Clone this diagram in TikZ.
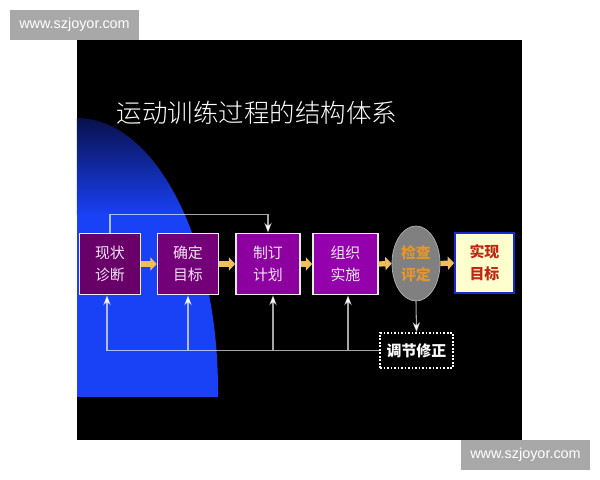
\documentclass[tikz,border=0pt]{standalone}
\usepackage{fontspec}
\setmainfont{Noto Sans CJK SC}
\newfontfamily\titlefont{Noto Sans CJK SC}[UprightFont=* Light]
\newfontfamily\wmfont{Liberation Sans}
\usepackage{xcolor}
\usepackage{tikz}
\usetikzlibrary{arrows.meta,positioning,shapes.geometric}

% 幻灯片配色
\definecolor{slideblue}{RGB}{25,65,245}
\definecolor{slidenavy}{RGB}{8,15,70}
\definecolor{stageA}{RGB}{105,0,105}
\definecolor{stageB}{RGB}{115,0,120}
\definecolor{stageC}{RGB}{140,0,160}
\definecolor{stageD}{RGB}{148,0,172}
\definecolor{flowyellow}{RGB}{240,190,90}
\definecolor{checkgray}{RGB}{128,128,128}
\definecolor{checkorange}{RGB}{228,150,45}
\definecolor{goalfill}{RGB}{255,255,205}
\definecolor{goalblue}{RGB}{20,45,200}
\definecolor{goaltext}{RGB}{190,40,20}
\definecolor{wmgray}{RGB}{168,168,168}

\begin{document}
\begin{tikzpicture}[
        x=0.02cm, y=-0.02cm,
        >=Stealth,
        % 流程方框样式
        stage/.style={draw=white!85!gray, line width=0.9pt, minimum width=1.22cm, minimum height=1.22cm,
            align=center, inner sep=1pt, text={rgb,255:red,242;green,228;blue,242},
            font=\fontsize{8.5}{12.5}\selectfont},
        checkpt/.style={draw=gray!60!white, fill=checkgray, ellipse, minimum width=0.96cm, minimum height=1.5cm,
            inner sep=0pt, align=center, text=checkorange, font=\fontsize{8.5}{12.5}\selectfont\bfseries},
        goal/.style={draw=goalblue, line width=1pt, fill=goalfill, minimum width=1.18cm, minimum height=1.2cm,
            align=center, text=goaltext, font=\fontsize{8.5}{12.5}\selectfont\bfseries},
        adjust/.style={draw=white, densely dotted, line width=1pt, minimum width=1.46cm, minimum height=0.7cm,
            text=white, font=\fontsize{8.5}{10}\selectfont\bfseries},
        % 连线样式
        flowarrow/.style={draw=flowyellow, line width=3pt, -{Triangle[length=3.6pt, width=7.4pt]}},
        backline/.style={draw=white, draw opacity=0.65, line width=0.6pt},
        watermark/.style={fill=wmgray, text=white, minimum width=2.58cm, minimum height=0.6cm,
            font=\wmfont\fontsize{8.2}{10}\selectfont}
    ]

    \useasboundingbox[fill=white] (0,0) rectangle (600,480);

    % 黑色幻灯片与左侧蓝色弧形
    \fill[black] (77,40) rectangle (522,440);
    \begin{scope}
        \clip (77,40) rectangle (300,397);
        \clip (77,390) ellipse [x radius=2.82cm, y radius=5.44cm];
        \shade[top color=slidenavy, bottom color=slideblue] (77,115) rectangle (300,215);
        \fill[slideblue] (77,214) rectangle (300,397);
    \end{scope}

    % 标题
    \node[text=white, font=\titlefont\fontsize{14.5}{16}\selectfont] (title) at (257,113) {运动训练过程的结构体系};

    % 流程节点
    \node[stage, fill=stageA] (s1) at (110,264) {现状\\诊断};
    \node[stage, fill=stageB] (s2) at (188,264) {确定\\目标};
    \node[stage, fill=stageC, minimum width=1.28cm] (s3) at (268,264) {制订\\计划};
    \node[stage, fill=stageD, minimum width=1.3cm] (s4) at (345.5,264) {组织\\实施};
    \node[checkpt] (chk) at (416,263.5) {检查\\评定};
    \node[goal] (aim) at (484.5,263) {实现\\目标};
    \node[adjust] (adj) at (416.5,350.5) {调节修正};

    % 主流程箭头
    \draw[flowarrow] (s1.east) -- (s2.west);
    \draw[flowarrow] (s2.east) -- (s3.west);
    \draw[flowarrow] (s3.east) -- (s4.west);
    \draw[flowarrow] (s4.east) -- (chk.west);
    \draw[flowarrow] (chk.east) -- (aim.west);

    % 反馈线
    \draw[backline, ->] (s1.north) -- ++(0,-18) -| (s3.north);
    \draw[backline, ->] (chk.south) -- (adj.north);
    \draw[backline, <-] ([xshift=-0.06cm]s1.south) |- (adj.west);
    \draw[backline, ->] (s2.south |- adj.west) -- (s2.south);
    \draw[backline, ->] ([xshift=0.1cm]s3.south |- adj.west) -- ([xshift=0.1cm]s3.south);
    \draw[backline, ->] ([xshift=0.05cm]s4.south |- adj.west) -- ([xshift=0.05cm]s4.south);

    % 水印
    \node[watermark] (wm1) at (74.5,25) {www.szjoyor.com};
    \node[watermark] (wm2) at (525.5,455) {www.szjoyor.com};

\end{tikzpicture}
\end{document}
